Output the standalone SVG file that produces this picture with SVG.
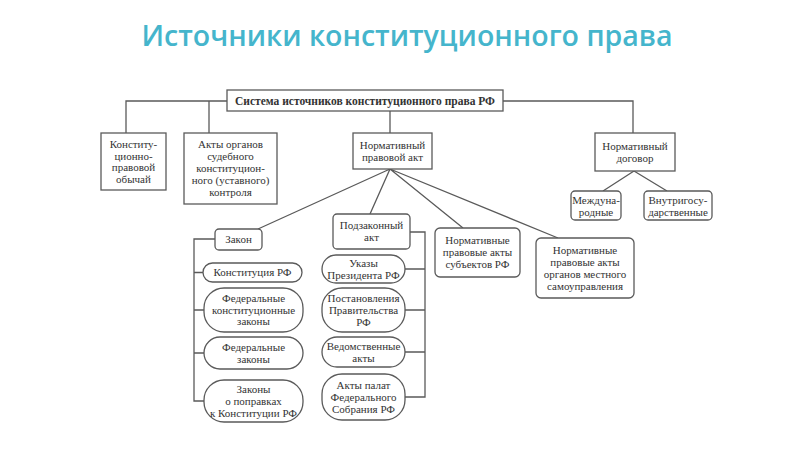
<svg xmlns="http://www.w3.org/2000/svg" width="800" height="450" viewBox="0 0 800 450">
<style>
.title{font-family:"Open Sans","Liberation Sans",sans-serif;font-weight:600;font-size:28.5px;fill:#45b5cc}
.b{fill:#fff;stroke:#5a5a5a;stroke-width:1.3}
.t{font-family:"Liberation Serif","Times New Roman",serif;font-size:11px;fill:#333;text-anchor:middle}
.tb{font-weight:bold;font-size:11.5px}
.c{fill:none;stroke:#5a5a5a;stroke-width:1.3}
</style>
<rect width="800" height="450" fill="#fff"/>
<text class="title" x="407" y="46" text-anchor="middle">Источники конституционного права</text>

<g id="connectors">
<path class="c" d="M227,101H126V133M209,101V133M503,101H633V133M390,111V133"/>
<path class="c" d="M390,169L258,229M390,169L370,214M390,169L463,228M390,169L558,238"/>
<path class="c" d="M634,171L603,191M634,171L667,191"/>
<path class="c" d="M215,239H194V401H204M194,272.5H203M194,310H204M194,353H204"/>
<path class="c" d="M410,232H425V397H405M405,269H425M405,310H425M405,352H425"/>
</g>

<g id="root"><rect class="b" x="227" y="90" width="276" height="21"/>
<text class="t tb" x="365" y="104.5">Система источников конституционного права РФ</text></g>

<g id="obychai"><rect class="b" x="101" y="133" width="65" height="57"/>
<text class="t" x="133.5" y="148">Конститу-</text><text class="t" x="133.5" y="159.5">ционно-</text><text class="t" x="133.5" y="171">правовой</text><text class="t" x="133.5" y="182.5">обычай</text></g>

<g id="sud"><rect class="b" x="184" y="133" width="93" height="71"/>
<text class="t" x="230.5" y="148">Акты органов</text><text class="t" x="230.5" y="160">судебного</text><text class="t" x="230.5" y="172">конституцион-</text><text class="t" x="230.5" y="184">ного (уставного)</text><text class="t" x="230.5" y="196">контроля</text></g>

<g id="npa"><rect class="b" x="353" y="133" width="79" height="36"/>
<text class="t" x="392.5" y="148.5">Нормативный</text><text class="t" x="392.5" y="160.5">правовой акт</text></g>

<g id="dogovor"><rect class="b" x="595" y="133" width="80" height="38"/>
<text class="t" x="635" y="149.5">Нормативный</text><text class="t" x="635" y="161.5">договор</text></g>

<g id="mezhd"><rect class="b" x="571" y="191" width="50" height="29" rx="4"/>
<text class="t" x="596" y="204">Междуна-</text><text class="t" x="596" y="215.5">родные</text></g>

<g id="vnutr"><rect class="b" x="644" y="191" width="68" height="29" rx="4"/>
<text class="t" x="678" y="204">Внутригосу-</text><text class="t" x="678" y="215.5">дарственные</text></g>

<g id="zakon"><rect class="b" x="215" y="229" width="47" height="21" rx="4"/>
<text class="t" x="238.5" y="243">Закон</text></g>

<g id="podzakon"><rect class="b" x="333" y="214" width="77" height="35" rx="4"/>
<text class="t" x="371.5" y="228.5">Подзаконный</text><text class="t" x="371.5" y="240.5">акт</text></g>

<g id="subekty"><rect class="b" x="435" y="228" width="85" height="49" rx="5"/>
<text class="t" x="477.5" y="244">Нормативные</text><text class="t" x="477.5" y="256">правовые акты</text><text class="t" x="477.5" y="268">субъектов РФ</text></g>

<g id="mestnoe"><rect class="b" x="536" y="238" width="98" height="60" rx="5"/>
<text class="t" x="585" y="253.5">Нормативные</text><text class="t" x="585" y="265.5">правовые акты</text><text class="t" x="585" y="277.5">органов местного</text><text class="t" x="585" y="289.5">самоуправления</text></g>

<g id="konst"><rect class="b" x="203" y="263" width="99" height="19" rx="9.5"/>
<text class="t" x="252.5" y="276">Конституция РФ</text></g>

<g id="fkz"><rect class="b" x="204" y="288" width="99" height="44" rx="20"/>
<text class="t" x="253.5" y="302">Федеральные</text><text class="t" x="253.5" y="313.5">конституционные</text><text class="t" x="253.5" y="325">законы</text></g>

<g id="fz"><rect class="b" x="204" y="337" width="99" height="32" rx="16"/>
<text class="t" x="253.5" y="350.5">Федеральные</text><text class="t" x="253.5" y="362.5">законы</text></g>

<g id="popravki"><rect class="b" x="204" y="380" width="99" height="42" rx="20"/>
<text class="t" x="253.5" y="392.5">Законы</text><text class="t" x="253.5" y="404.5">о поправках</text><text class="t" x="253.5" y="416.5">к Конституции РФ</text></g>

<g id="ukazy"><rect class="b" x="322" y="255" width="83" height="28" rx="14"/>
<text class="t" x="363.5" y="267">Указы</text><text class="t" x="363.5" y="279">Президента РФ</text></g>

<g id="postanovl"><rect class="b" x="322" y="288" width="83" height="44" rx="20"/>
<text class="t" x="363.5" y="301.5">Постановления</text><text class="t" x="363.5" y="313.5">Правительства</text><text class="t" x="363.5" y="325.5">РФ</text></g>

<g id="vedom"><rect class="b" x="322" y="337" width="83" height="30" rx="15"/>
<text class="t" x="363.5" y="349.5">Ведомственные</text><text class="t" x="363.5" y="361.5">акты</text></g>

<g id="palaty"><rect class="b" x="322" y="374" width="83" height="46" rx="20"/>
<text class="t" x="363.5" y="388.5">Акты палат</text><text class="t" x="363.5" y="400.5">Федерального</text><text class="t" x="363.5" y="412.5">Собрания РФ</text></g>
</svg>
